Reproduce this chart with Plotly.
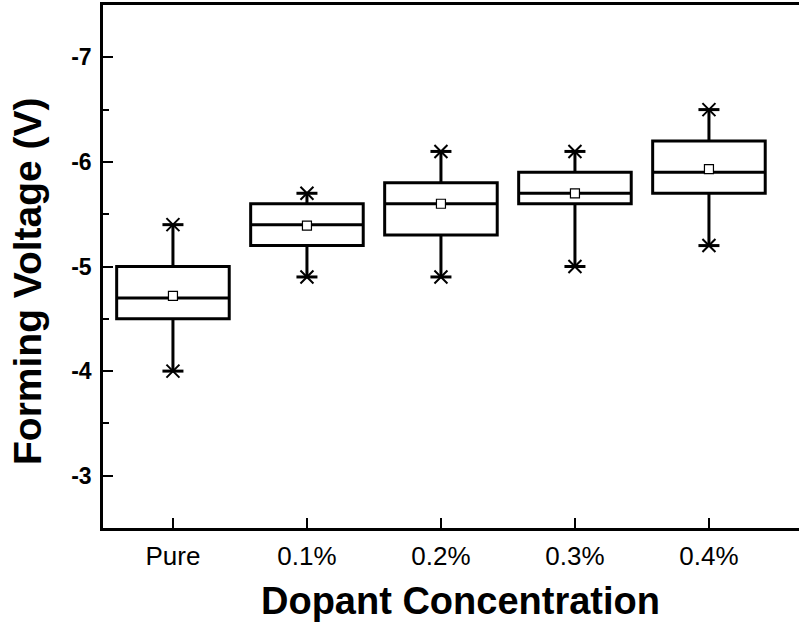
import plotly.graph_objects as go

categories = ["Pure", "0.1%", "0.2%", "0.3%", "0.4%"]
q1 = [-5.0, -5.6, -5.8, -5.9, -6.2]       # box top (more negative)
q3 = [-4.5, -5.2, -5.3, -5.6, -5.7]       # box bottom
median = [-4.7, -5.4, -5.6, -5.7, -5.9]
mean = [-4.72, -5.39, -5.6, -5.7, -5.93]
whisker_low = [-5.4, -5.7, -6.1, -6.1, -6.5]   # most negative whisker end
whisker_high = [-4.0, -4.9, -4.9, -5.0, -5.2]

y_tickvals = [-7, -6, -5, -4, -3]
y_ticktext = ["-7", "-6", "-5", "-4", "-3"]

fig = go.Figure()

fig.add_trace(go.Box(
    x=categories,
    q1=q1, median=median, q3=q3,
    lowerfence=whisker_low, upperfence=whisker_high,
    fillcolor="rgba(0,0,0,0)",
    line=dict(color="black", width=3),
    whiskerwidth=0,
    width=0.84,
    boxpoints=False,
    hoverinfo="skip",
    showlegend=False,
))

star_x = categories + categories
star_y = whisker_low + whisker_high
fig.add_trace(go.Scatter(
    x=star_x, y=star_y, mode="markers",
    marker=dict(symbol="x-thin-open", size=13, color="black", line=dict(color="black", width=2)),
    showlegend=False, hoverinfo="skip",
))
fig.add_trace(go.Scatter(
    x=star_x, y=star_y, mode="markers",
    marker=dict(symbol="line-ew-open", size=15, color="black", line=dict(color="black", width=3)),
    showlegend=False, hoverinfo="skip",
))
fig.add_trace(go.Scatter(
    x=categories, y=mean, mode="markers",
    marker=dict(symbol="square", size=9, color="white", line=dict(color="black", width=1.2)),
    showlegend=False, hoverinfo="skip",
))

fig.update_layout(
    width=799, height=627,
    margin=dict(l=103, r=0, t=5, b=99, autoexpand=False),
    paper_bgcolor="white", plot_bgcolor="white",
    font=dict(family="Liberation Sans, Arial, sans-serif", color="black"),
    showlegend=False,
    xaxis=dict(
        type="category",
        range=[-0.522, 4.672],
        showline=True, linecolor="black", linewidth=2.5, mirror=True,
        ticks="inside", ticklen=10, tickwidth=2, tickcolor="black",
        tickfont=dict(size=26, family="Liberation Sans, Arial, sans-serif"),
        ticklabelstandoff=3,
        showgrid=False, zeroline=False, automargin=False,
    ),
    yaxis=dict(
        range=[-2.5, -7.5],
        tickvals=y_tickvals, ticktext=y_ticktext,
        showline=True, linecolor="black", linewidth=2.5, mirror=False,
        ticks="inside", ticklen=10, tickwidth=2, tickcolor="black",
        minor=dict(ticks="inside", ticklen=6, tickwidth=2, tickcolor="black", dtick=0.5, showgrid=False),
        tickfont=dict(size=23, family="Liberation Sans, Arial, sans-serif", weight="bold"),
        ticklabelstandoff=4,
        showgrid=False, zeroline=False, automargin=False,
    ),
    annotations=[
        dict(text="<b>Dopant Concentration</b>", xref="paper", yref="paper",
             x=(460 - 103) / (799 - 103), y=-(601 - 528) / 523.0,
             xanchor="center", yanchor="middle", showarrow=False,
             font=dict(size=38, family="Liberation Sans, Arial, sans-serif", color="black")),
        dict(text="<b>Forming Voltage (V)</b>", xref="paper", yref="paper",
             x=-(103 - 27) / (799 - 103), y=1 - (281 - 5) / 523.0,
             xanchor="center", yanchor="middle", showarrow=False, textangle=-90,
             font=dict(size=39, family="Liberation Sans, Arial, sans-serif", color="black")),
    ],
)

fig.write_html("out.html", config={"displayModeBar": False},
               post_script="document.body.style.margin='0px';")
